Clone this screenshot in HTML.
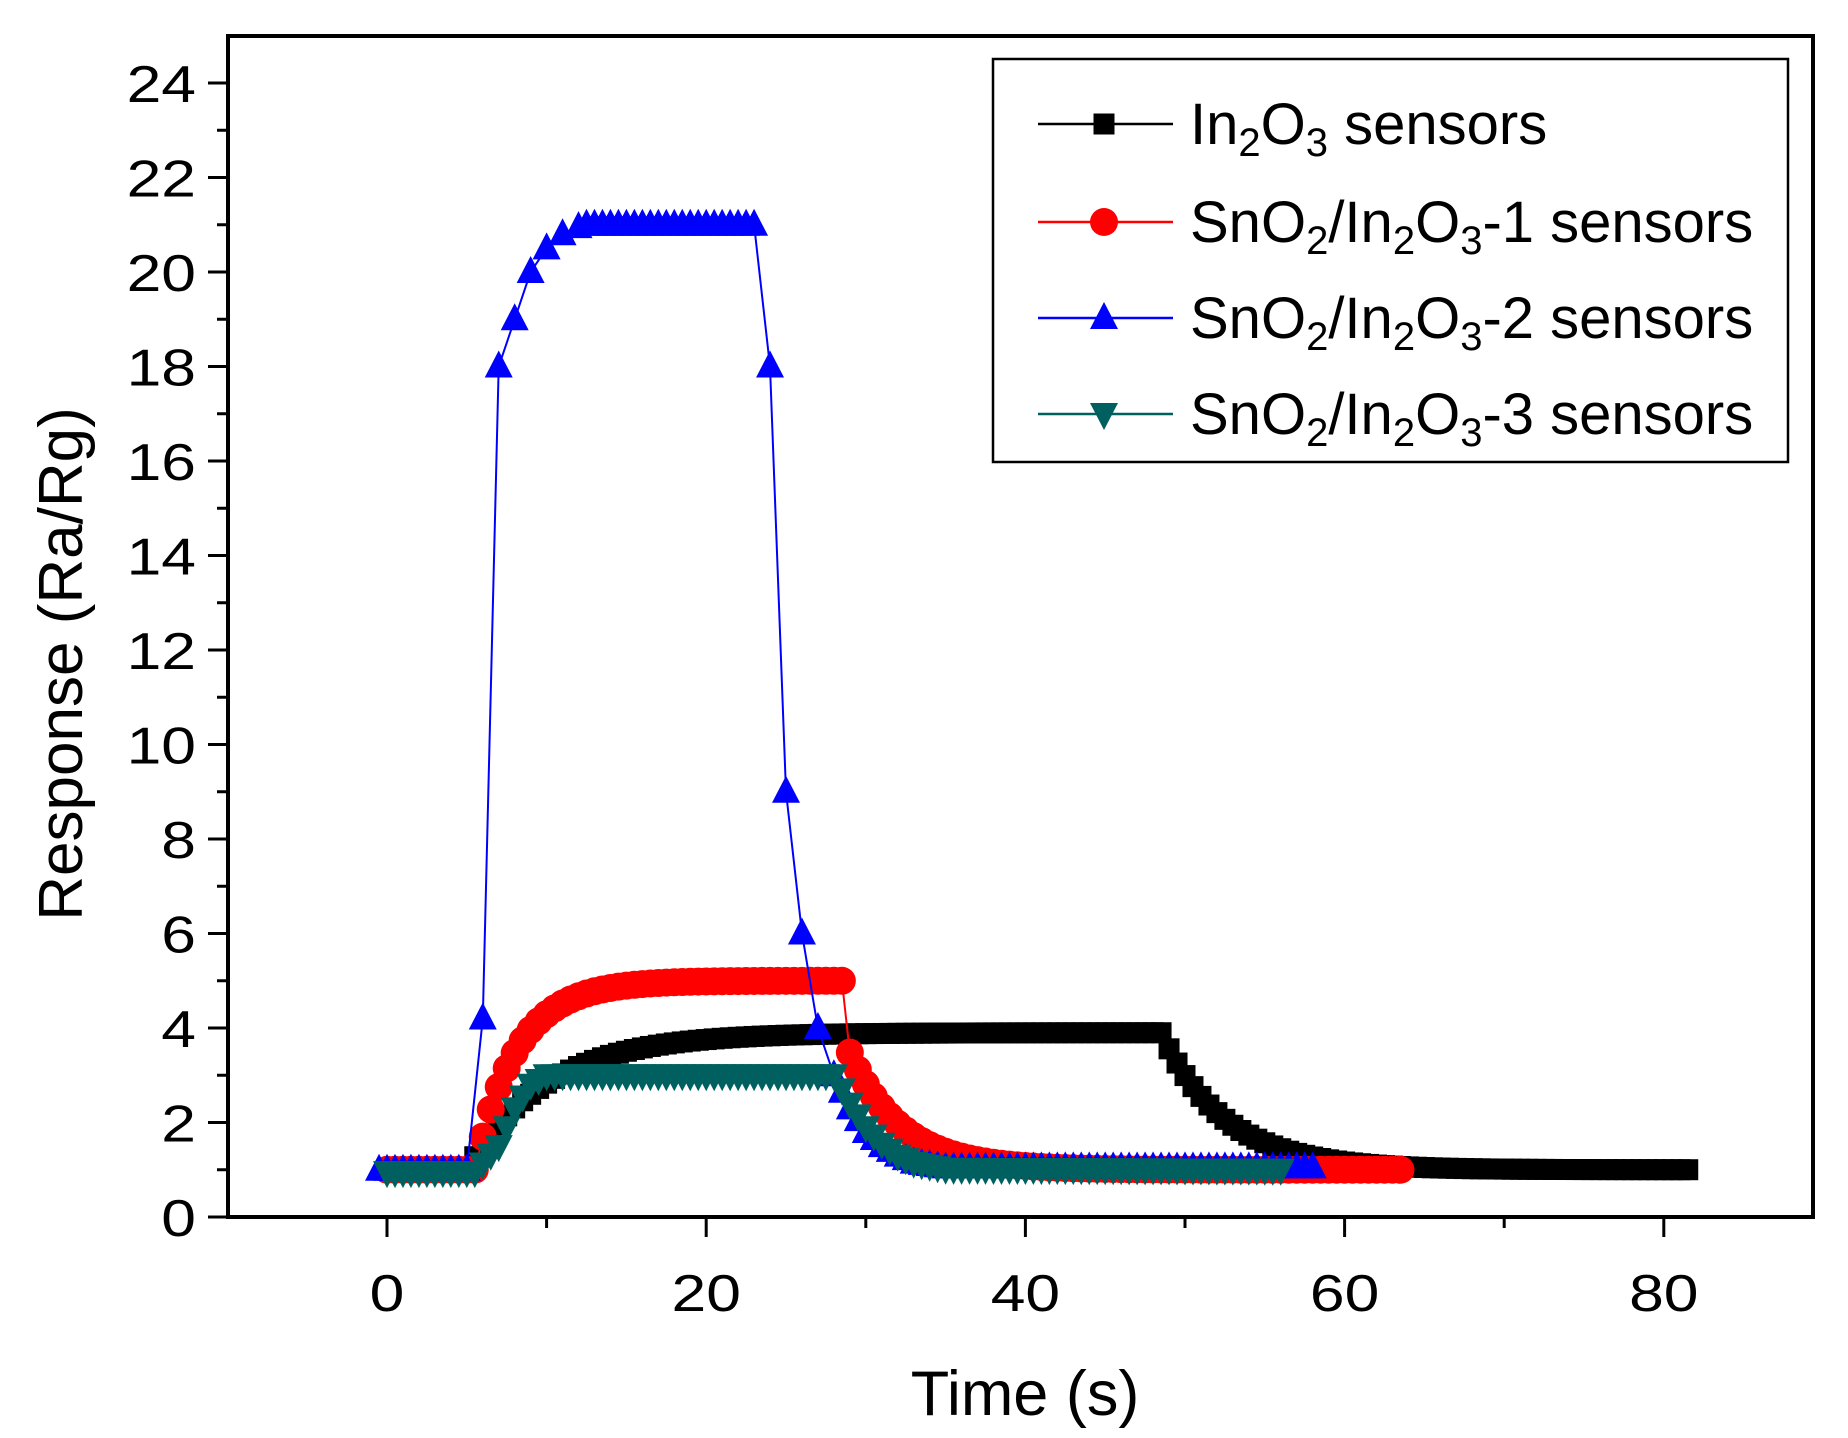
<!DOCTYPE html>
<html><head><meta charset="utf-8"><style>
html,body{margin:0;padding:0;background:#fff;}
svg{display:block;font-family:"Liberation Sans",Arial,sans-serif;}
</style></head><body>
<svg id="s" width="1848" height="1438" viewBox="0 0 1848 1438" xmlns="http://www.w3.org/2000/svg"></svg>
<script>
const X=t=>387+15.96*t, Y=v=>1217-47.25*v;
let o='';
o+='<rect x="228" y="36" width="1585" height="1181" fill="none" stroke="#000" stroke-width="4"/>';
for(let v=0;v<=24;v++){const y=Y(v);const L=v%2==0?20:11;o+=`<line x1="${228-L}" y1="${y}" x2="228" y2="${y}" stroke="#000" stroke-width="3"/>`;
 if(v%2==0)o+=`<text transform="translate(196,${y+19}) scale(1.2,1)" font-size="52" text-anchor="end">${v}</text>`;}
for(let t=-10;t<=90;t+=10){const x=X(t);if(x<228||x>1813)continue;const L=t%20==0?20:11;o+=`<line x1="${x}" y1="1217" x2="${x}" y2="${1217+L}" stroke="#000" stroke-width="3"/>`;
 if(t%20==0&&t>=0)o+=`<text transform="translate(${x},1311) scale(1.2,1)" font-size="52" text-anchor="middle">${t}</text>`;}
o+='<text x="1025" y="1415" font-size="63" text-anchor="middle">Time (s)</text>';
o+='<text transform="translate(82,664) rotate(-90)" font-size="62" text-anchor="middle">Response (Ra/Rg)</text>';
function interp(pts,t){for(let i=0;i<pts.length-1;i++){if(t<=pts[i+1][0]){const a=pts[i],b=pts[i+1];return a[1]+(b[1]-a[1])*(t-a[0])/(b[0]-a[0]);}}return pts[pts.length-1][1];}
function series(f,t0,t1,dt){const a=[];for(let t=t0;t<=t1+1e-9;t+=dt)a.push([t,f(t)]);return a;}
const black=series(t=>t<5?1:t<48.5?1+2.9*(1-Math.exp(-(t-5)/5)):1+2.9*Math.exp(-(t-48.5)/4),0,81.5,0.5);
const red=series(t=>t<5.5?1:t<=28.5?1+4*(1-Math.exp(-(t-5.5)/2.6)):1+2.9*Math.exp(-(t-28.5)/3.2),0,63.5,0.5);
const bluePts=[[0,1],[5,1],[6,4.2],[7,18],[8,19],[9,20],[10,20.5],[11,20.8],[12,20.95],[13,21],[23,21],[24,18],[25,9],[26,6],[27,4],[28,3],[29,2.3],[30,1.8],[31,1.5],[32,1.3],[33,1.15],[35,1.05],[58,1.05]];
const blue=[];for(let t=-0.5;t<=5;t+=0.5)blue.push([t,1]);for(let t=6;t<=12;t++)blue.push([t,interp(bluePts,t)]);for(let t=12.5;t<=23;t+=0.5)blue.push([t,21]);for(let t=24;t<=28;t++)blue.push([t,interp(bluePts,t)]);for(let t=28.5;t<=58;t+=0.5)blue.push([t,interp(bluePts,t)]);
const gPts=[[0,0.95],[5.5,0.95],[7,1.5],[8,2.3],[9,2.8],[10,3],[28,3],[29,2.4],[30,1.9],[31,1.55],[32,1.3],[33,1.15],[35,1.02],[56,1]];
const green=series(t=>interp(gPts,t),0,56,0.5);
function line(d,c,w){return `<polyline fill="none" stroke="${c}" stroke-width="${w}" points="${d.map(p=>X(p[0]).toFixed(1)+','+Y(p[1]).toFixed(1)).join(' ')}"/>`;}
const sq=(x,y)=>`<rect x="${x-10.5}" y="${y-10.5}" width="21" height="21" fill="#000"/>`;
const ci=(x,y)=>`<circle cx="${x}" cy="${y}" r="14" fill="#f00"/>`;
const tu=(x,y)=>`<polygon points="${x},${y-16} ${x-14},${y+11} ${x+14},${y+11}" fill="#00f"/>`;
const td=(x,y)=>`<polygon points="${x},${y+16} ${x-14},${y-11} ${x+14},${y-11}" fill="#006060"/>`;
function marks(d,m){return d.map(p=>m(X(p[0]),Y(p[1]))).join('');}
o+=line(black,'#000',2)+marks(black,sq);
o+=line(red,'#f00',2)+marks(red,ci);
o+=line(blue,'#00f',2)+marks(blue,tu);
o+=line(green,'#006060',2)+marks(green,td);
o+='<rect x="993" y="59" width="795" height="403" fill="#fff" stroke="#000" stroke-width="2.5"/>';
const sb=s=>`<tspan baseline-shift="-30%" font-size="40">${s}</tspan>`;
const rows=[[124,'#000',sq,'In'+sb(2)+'O'+sb(3)+' sensors'],
[222,'#f00',ci,'SnO'+sb(2)+'/In'+sb(2)+'O'+sb(3)+'-1 sensors'],
[318,'#00f',tu,'SnO'+sb(2)+'/In'+sb(2)+'O'+sb(3)+'-2 sensors'],
[414,'#006060',td,'SnO'+sb(2)+'/In'+sb(2)+'O'+sb(3)+'-3 sensors']];
for(const r of rows){o+=`<line x1="1038" y1="${r[0]}" x2="1173" y2="${r[0]}" stroke="${r[1]}" stroke-width="2.5"/>`+r[2](1104,r[0]);
 o+=`<text x="1190" y="${r[0]+20}" font-size="58">${r[3]}</text>`;}
document.getElementById('s').innerHTML=o;
</script>
</body></html>
